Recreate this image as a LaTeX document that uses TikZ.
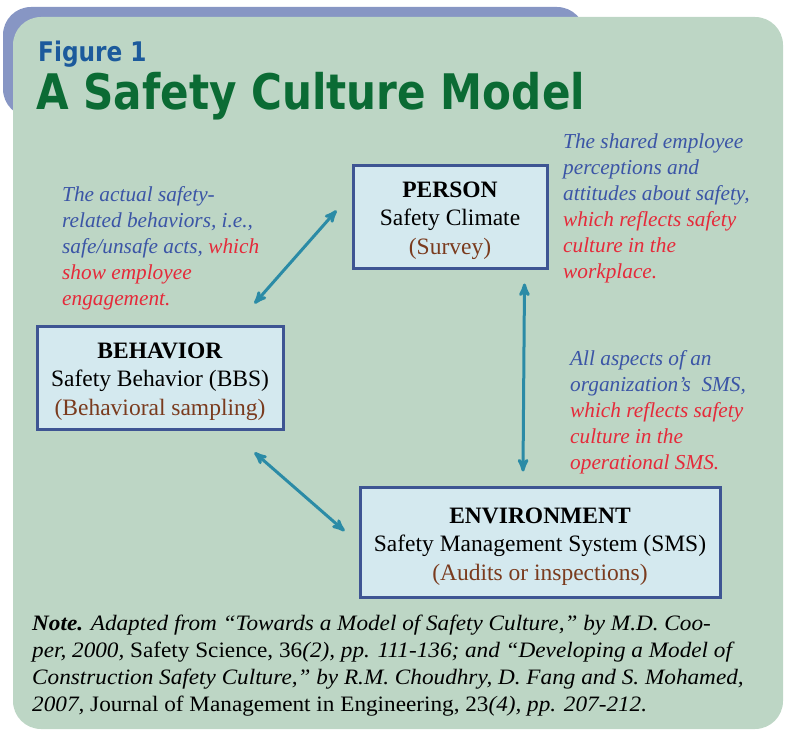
\documentclass[tikz,border=0pt]{standalone}
\usepackage{fontspec}
\setmainfont{Liberation Serif}
\newfontfamily\headfont[FakeStretch=0.86]{DejaVu Sans}
\newfontfamily\sourcefont[FakeStretch=1.055]{Liberation Serif}
\usetikzlibrary{calc}
\usetikzlibrary{arrows}
\definecolor{backblue}{HTML}{8796C4}
\definecolor{panelgreen}{HTML}{BDD6C5}
\definecolor{figblue}{HTML}{1C5A9C}
\definecolor{titlegreen}{HTML}{0B6B34}
\definecolor{boxfill}{HTML}{D4E9EF}
\definecolor{boxline}{HTML}{3E5593}
\definecolor{linkteal}{HTML}{2B8BA6}
\definecolor{annoblue}{HTML}{3B55A6}
\definecolor{annored}{HTML}{E52A3A}
\definecolor{methodbrown}{HTML}{7A3B1E}
\newcommand{\redpart}[1]{\textcolor{annored}{#1}}
\newcommand{\method}[1]{\textcolor{methodbrown}{#1}}
\newcommand{\facethead}[1]{\rule{0pt}{24pt}\textbf{#1}}

\begin{document}
\begin{tikzpicture}[x=1pt, y=-1pt,
  facet/.style={draw=boxline, line width=3pt, fill=boxfill, align=center, inner sep=0pt,
    font=\fontsize{23.5}{28.5}\selectfont},
  remark/.style={align=left, inner sep=0pt, anchor=north west, text=annoblue,
    font=\fontsize{21.3}{26}\selectfont\itshape},
  link/.style={linkteal, line width=3pt, <->, >=stealth'}]
\useasboundingbox (0,0) rectangle (787,733);
% panel behind the figure
\fill[backblue, rounded corners=28pt] (3,7) rectangle (585,117);
\fill[panelgreen, rounded corners=28pt] (13,17) rectangle (783,729);
% headings
\node[anchor=base west, inner sep=0pt, text=figblue, font=\headfont\bfseries\fontsize{27}{30}\selectfont]
  (fig) at (38,62) {Figure 1};
\node[anchor=base west, inner sep=0pt, text=titlegreen, font=\headfont\bfseries\fontsize{49}{52}\selectfont]
  (title) at (36,110) {A Safety Culture Model};
% the three facets
\node[facet, minimum width=194pt, minimum height=103pt] (person) at (450,216.5)
  {\facethead{PERSON}\\Safety Climate\\\method{(Survey)}};
\node[facet, minimum width=246pt, minimum height=103pt] (behavior) at (160,377.5)
  {\facethead{BEHAVIOR}\\Safety Behavior (BBS)\\\method{(Behavioral sampling)}};
\node[facet, minimum width=360pt, minimum height=110pt] (environment) at (540,542)
  {\facethead{ENVIRONMENT}\\Safety Management System (SMS)\\\method{(Audits or inspections)}};
% links
\draw[link] ($(behavior.north east)+(-30,-21)$) -- ($(person.west)+(-15,-6)$);
\draw[link] ($(behavior.south east)+(-30,22)$) -- ($(environment.west)+(-14,-11)$);
\draw[link] ($(person.south east)+(-24,14)$) -- ($(environment.north)+(-17,-14)$);
% remarks
\node[remark] (behaviornote) at (62,186)
  {The actual safety-\\related behaviors, i.e.,\\safe/unsafe acts, \redpart{which}\\
   \redpart{show employee}\\\redpart{engagement.}};
\node[remark] (personnote) at (563,134)
  {The shared employee\\perceptions and\\attitudes about safety,\\
   \redpart{which reflects safety}\\\redpart{culture in the}\\\redpart{workplace.}};
\node[remark] (environmentnote) at (570,350)
  {All aspects of an\\organization’s \ SMS,\\\redpart{which reflects safety}\\
   \redpart{culture in the}\\\redpart{operational SMS.}};
% source note
\node[anchor=north west, align=left, inner sep=0pt, font=\sourcefont\fontsize{22}{27}\selectfont\itshape]
  (source) at (32,615)
  {\textbf{Note.} Adapted from “Towards a Model of Safety Culture,” by M.D. Coo-\\
   per, 2000, \textup{Safety Science, 36}(2), pp. 111-136; and “Developing a Model of\\
   Construction Safety Culture,” by R.M. Choudhry, D. Fang and S. Mohamed,\\
   2007, \textup{Journal of Management in Engineering, 23}(4), pp. 207-212.};
\end{tikzpicture}
\end{document}
